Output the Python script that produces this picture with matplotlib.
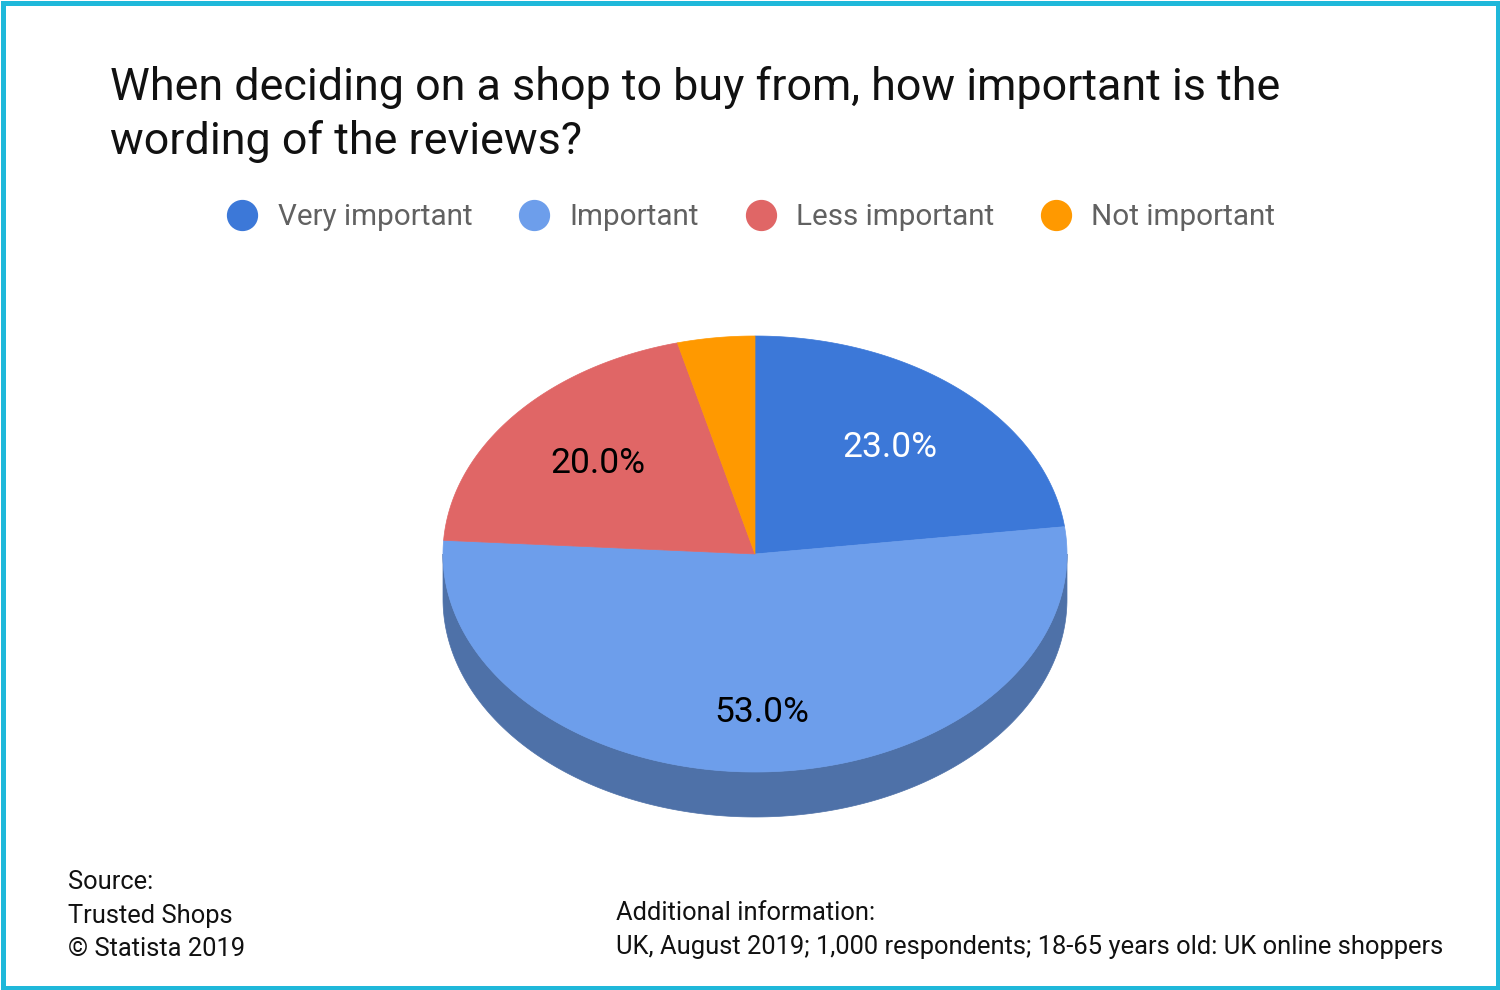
import numpy as np
import matplotlib
matplotlib.use("Agg")
import matplotlib.pyplot as plt
from matplotlib.patches import Polygon, Rectangle
from matplotlib.lines import Line2D

plt.rcParams['font.family'] = ['Roboto', 'DejaVu Sans']

# ---- data ----
categories = ["Very important", "Important", "Less important", "Not important"]
shares = [23.0, 53.0, 20.0, 4.0]
top_colors = ["#3c78d8", "#6d9eeb", "#e06666", "#ff9900"]
side_colors = ["#2f5ea8", "#4e71a8", "#a84d4d", "#bf7300"]
title_lines = ["When deciding on a shop to buy from, how important is the",
               "wording of the reviews?"]
source_lines = ["Source:", "Trusted Shops", "\u00a9 Statista 2019"]
info_lines = ["Additional information:",
              "UK, August 2019; 1,000 respondents; 18-65 years old: UK online shoppers"]

W, H = 1500, 990
fig = plt.figure(figsize=(W / 100, H / 100), dpi=100)
ax = fig.add_axes([0, 0, 1, 1])
ax.set_xlim(0, W)
ax.set_ylim(H, 0)
ax.axis('off')

# pie geometry (pixel space)
cx, cy, rx, ry, depth = 755, 554, 312, 218, 45

def pt(theta_deg):
    t = np.radians(theta_deg)
    return cx + rx * np.sin(t), cy - ry * np.cos(t)

vals = np.array(shares)
cum = np.concatenate([[0], np.cumsum(vals)]) / vals.sum() * 360.0

# side walls (front half: 90..270 deg clockwise from top)
for i in range(len(vals)):
    a0, a1 = cum[i], cum[i + 1]
    lo, hi = max(a0, 90), min(a1, 270)
    if hi <= lo:
        continue
    th = np.linspace(lo, hi, 200)
    xs, ys = pt(th)
    top_edge = np.column_stack([xs, ys])
    bot_edge = np.column_stack([xs[::-1], ys[::-1] + depth])
    ax.add_patch(Polygon(np.vstack([top_edge, bot_edge]), closed=True,
                         facecolor=side_colors[i], edgecolor=side_colors[i], lw=0.5))

# top faces
for i in range(len(vals)):
    a0, a1 = cum[i], cum[i + 1]
    th = np.linspace(a0, a1, 300)
    xs, ys = pt(th)
    poly = np.vstack([[cx, cy], np.column_stack([xs, ys])])
    ax.add_patch(Polygon(poly, closed=True, facecolor=top_colors[i],
                         edgecolor=top_colors[i], lw=0.5))

# slice labels
label_colors = ["white", "black", "black", "black"]
for i in range(len(vals)):
    if vals[i] < 5:
        continue
    mid = (cum[i] + cum[i + 1]) / 2
    t = np.radians(mid)
    lx = cx + 0.655 * rx * np.sin(t)
    ly = cy - 0.655 * ry * np.cos(t) + (depth / 3) * max(0.0, -np.cos(t))
    ax.text(lx, ly + 1, f"{vals[i]:.1f}%", ha='center', va='center',
            fontsize=25.5, color=label_colors[i])

# title
for k, line in enumerate(title_lines):
    ax.text(110, 100 + 54 * k, line, ha='left', va='baseline',
            fontsize=32.3, color='#111111')

# legend
handles = [Line2D([], [], linestyle='none', marker='o', markersize=21.5,
                  markerfacecolor=c, markeredgecolor=c) for c in top_colors]
leg = ax.legend(handles, categories, ncol=4, frameon=False,
                loc='center', bbox_to_anchor=(751.5 / W, 1 - 217 / H),
                bbox_transform=fig.transFigure,
                fontsize=21.3, handlelength=1.0, handletextpad=0.7,
                columnspacing=1.58, borderpad=0, borderaxespad=0)
for txt in leg.get_texts():
    txt.set_color('#616161')

# footer
for k, line in enumerate(source_lines):
    ax.text(68, 889 + 33.5 * k, line, ha='left', va='baseline',
            fontsize=18.4, color='#111111')
for k, line in enumerate(info_lines):
    ax.text(616, 920 + 34 * k, line, ha='left', va='baseline',
            fontsize=18.4, color='#111111')

# border
ax.add_patch(Rectangle((2.5, 2.5), W - 5, H - 5, fill=False,
                       edgecolor='#1fb8da', lw=5 * 72 / 100, clip_on=False))

fig.savefig("out.png", dpi=100)
